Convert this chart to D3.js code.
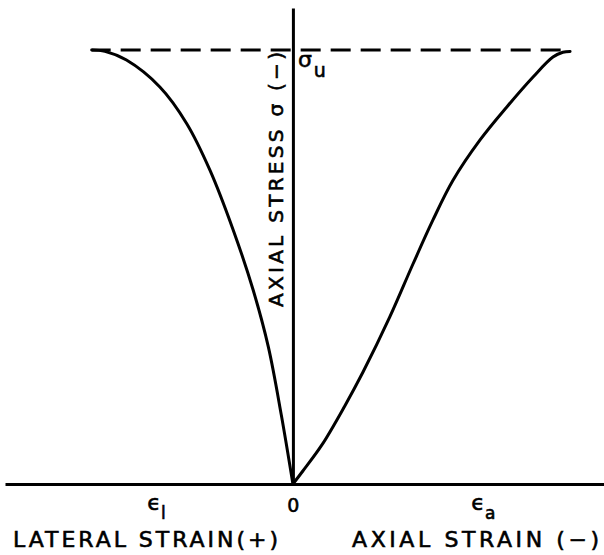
<!DOCTYPE html>
<html>
<head>
<meta charset="utf-8">
<script src="https://cdn.jsdelivr.net/npm/d3@7"></script>
<style>
  body { margin: 0; background: #fff; }
  svg { display: block; }
  text { font-family: 'DejaVu Sans', sans-serif; fill: #000; stroke: #000; stroke-width: 0.6px; }
</style>
</head>
<body>
<svg id="canvas" width="604" height="555"></svg>
<script>
// lateral strain is plotted to the left (negative x), stress as fraction of sigma_u
let lateralStrain = [0, -0.042, -0.089, -0.144, -0.216, -0.301, -0.385, -0.482, -0.603, -0.681, -0.729]
let lateralStress = [0, 0.159, 0.316, 0.447, 0.585, 0.724, 0.831, 0.915, 0.977, 0.997, 1.0]

let axialStrain = [0, 0.036, 0.105, 0.188, 0.254, 0.351, 0.435, 0.507, 0.580, 0.678, 0.775, 0.870, 0.942, 0.978, 1.004]
let axialStress = [0, 0.030, 0.090, 0.180, 0.258, 0.385, 0.507, 0.608, 0.700, 0.793, 0.869, 0.938, 0.984, 0.995, 0.997]

let strainExtent = [-1.043, 1.127]
let stressExtent = [0, 1.097]
let ultimateStress = 1.0
let dashFrom = -0.729
let dashTo = 1.0

let tickValues = [-0.496, 0, 0.688]
let tickMain = ['\u03f5', '0', '\u03f5']
let tickSub = ['l', '', 'a']

let lateralTitle = 'LATERAL STRAIN(+)'
let axialTitle = 'AXIAL STRAIN (\u2212)'
let stressTitle = 'AXIAL  STRESS \u03c3 (\u2212)'

let canvas = d3.select('#canvas')

let xScale = d3.scaleLinear().domain(strainExtent).range([5, 604])
let yScale = d3.scaleLinear().domain(stressExtent).range([484, 8])

let line = d3.line()
  .x((d) => xScale(d[0]))
  .y((d) => yScale(d[1]))
  .curve(d3.curveCatmullRom.alpha(0.5))

// dashed sigma_u line
canvas.append('line')
  .attr('x1', xScale(dashFrom))
  .attr('x2', xScale(dashTo))
  .attr('y1', yScale(ultimateStress))
  .attr('y2', yScale(ultimateStress))
  .attr('stroke', '#000')
  .attr('stroke-width', 3)
  .attr('stroke-dasharray', '20,10')
  .attr('stroke-dashoffset', 1)

// axes
let xAxis = canvas.append('g')
  .attr('transform', 'translate(0,' + yScale(0) + ')')
  .call(d3.axisBottom(xScale).tickValues(tickValues).tickSize(0).tickFormat(''))

xAxis.select('.domain').attr('stroke-width', 3)

xAxis.selectAll('.tick text')
  .attr('y', 28)
  .attr('dy', null)
  .style('font-size', '19px')
  .each(function (d, i) {
    let t = d3.select(this)
    t.append('tspan').style('font-size', i === 1 ? '19px' : '22px').attr('dy', i === 1 ? 0 : -2).text(tickMain[i])
    if (tickSub[i]) {
      t.append('tspan')
        .attr('dy', 9)
        .style('font-size', '17px')
        .text(tickSub[i])
    }
  })

let yAxis = canvas.append('g')
  .attr('transform', 'translate(' + xScale(0) + ',0)')
  .call(d3.axisLeft(yScale).tickValues([]).tickSizeOuter(0))

yAxis.select('.domain').attr('stroke-width', 3)

// curves
canvas.append('path')
  .datum(lateralStrain.map((s, i) => [s, lateralStress[i]]))
  .attr('d', line)
  .attr('fill', 'none')
  .attr('stroke', '#000')
  .attr('stroke-width', 3)
  .attr('stroke-linecap', 'round')

canvas.append('path')
  .datum(axialStrain.map((s, i) => [s, axialStress[i]]))
  .attr('d', line)
  .attr('fill', 'none')
  .attr('stroke', '#000')
  .attr('stroke-width', 3)
  .attr('stroke-linecap', 'round')

// sigma_u label
let su = canvas.append('text')
  .attr('x', xScale(0) + 5)
  .attr('y', yScale(ultimateStress) + 17)
  .style('font-size', '22px')
su.append('tspan').text('\u03c3')
su.append('tspan').attr('dx', 2).attr('dy', 10).style('font-size', '19px').text('u')

// titles
canvas.append('text')
  .attr('x', 13)
  .attr('y', 547)
  .attr('textLength', 265)
  .attr('lengthAdjust', 'spacing')
  .style('font-size', '22px')
  .text(lateralTitle)

canvas.append('text')
  .attr('x', 352)
  .attr('y', 547)
  .attr('textLength', 247)
  .attr('lengthAdjust', 'spacing')
  .style('font-size', '22px')
  .text(axialTitle)

canvas.append('text')
  .attr('transform', 'translate(283,307) rotate(-90)')
  .attr('textLength', 255)
  .attr('lengthAdjust', 'spacing')
  .style('font-size', '20px')
  .text(stressTitle)
</script>
</body>
</html>
